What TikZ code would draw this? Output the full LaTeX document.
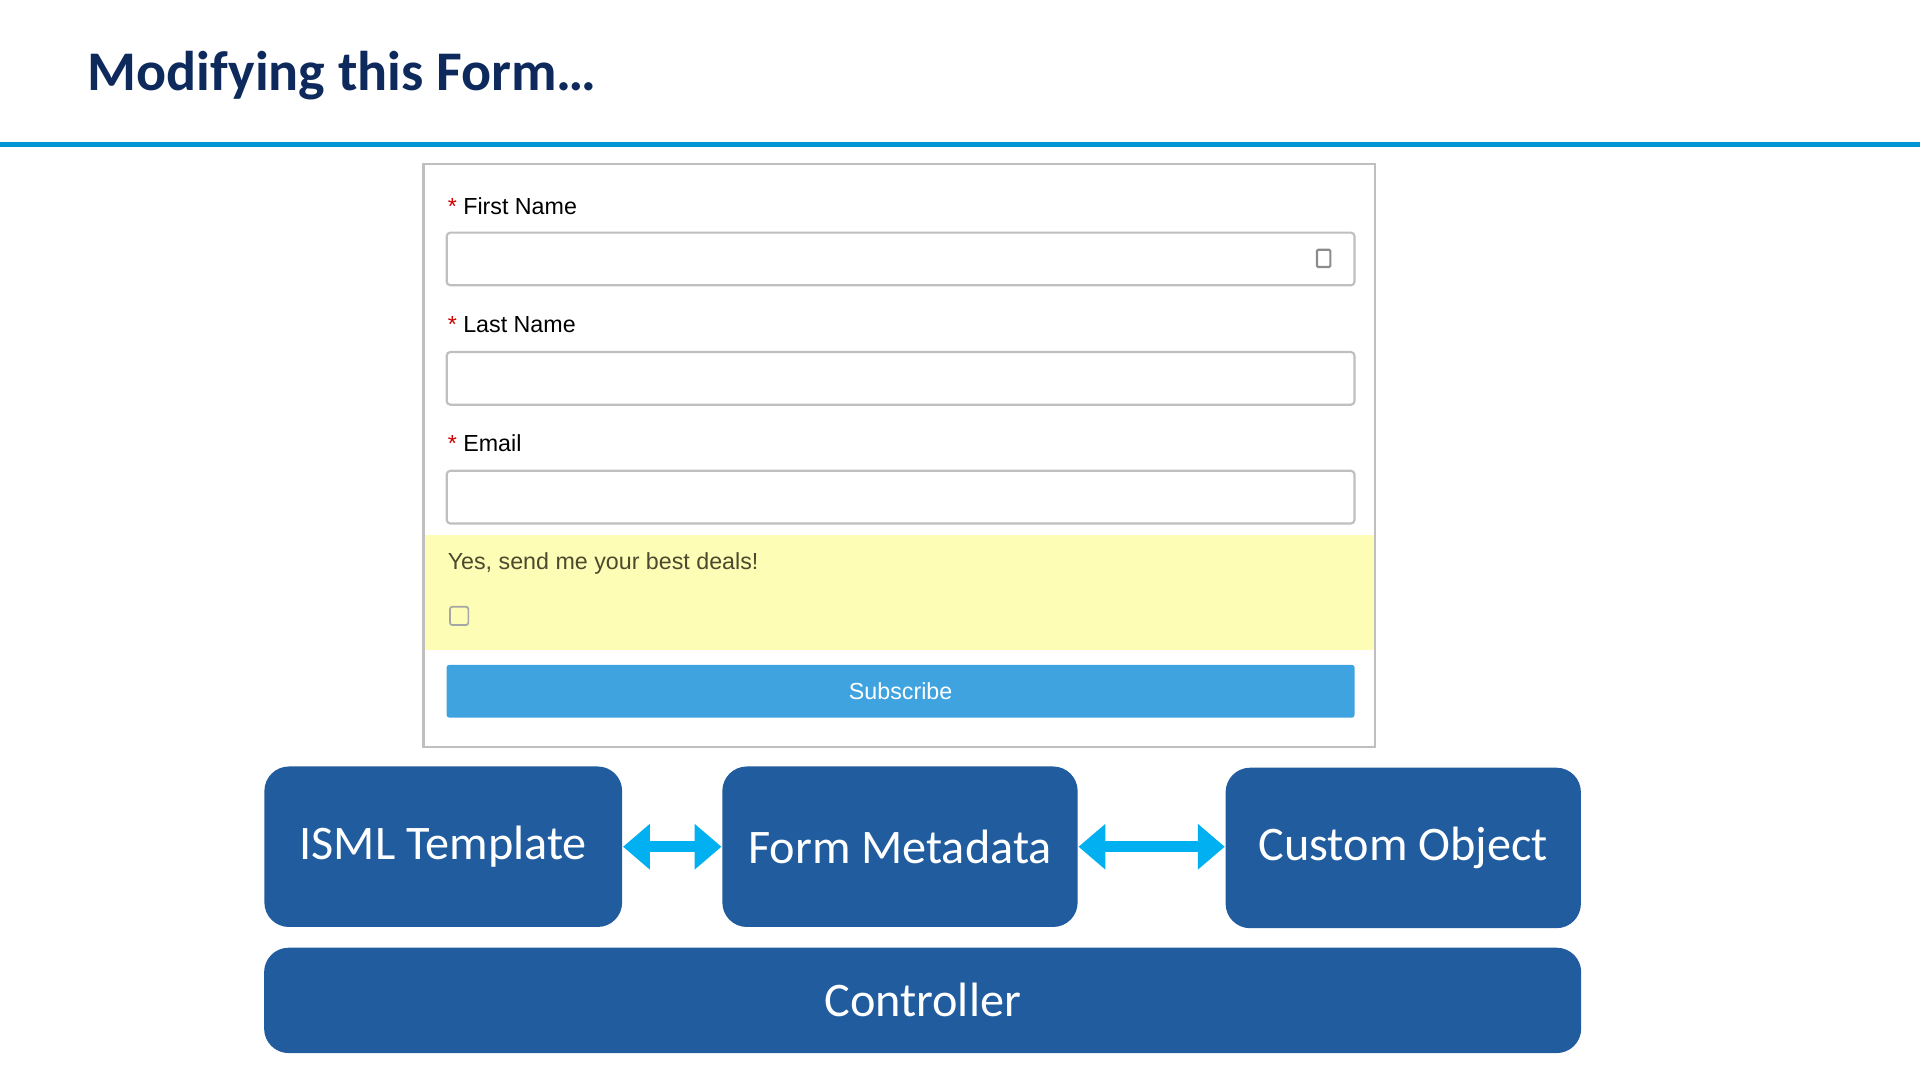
\documentclass[tikz,border=0pt]{standalone}
\usepackage{fontspec}
\setmainfont{Carlito}
\newfontfamily\formfont{Liberation Sans}
\usetikzlibrary{arrows.meta,positioning}
\definecolor{navy}{HTML}{0E2A5C}
\definecolor{rule}{HTML}{0096D6}
\definecolor{boxblue}{HTML}{215C9E}
\definecolor{arrowcyan}{HTML}{00B0F0}
\definecolor{deals}{HTML}{FDFDB5}
\definecolor{btn}{HTML}{3FA3E0}
\tikzset{
    block/.style={rectangle,rounded corners=0.2cm,fill=boxblue,text=white,font=\fontsize{11.2}{13}\selectfont},
    field/.style={rectangle,rounded corners=0.03cm,draw=black!25,line width=0.5pt,minimum width=7.41cm,minimum height=0.43cm},
    flabel/.style={anchor=west,font=\formfont\fontsize{5.4}{6.5}\selectfont,inner sep=0pt},
    link/.style={{Triangle[length=0.22cm,width=0.36cm]}-{Triangle[length=0.22cm,width=0.36cm]},line width=0.09cm,arrowcyan}
}
\begin{document}
\begin{tikzpicture}[x=0.01cm,y=-0.01cm]
\useasboundingbox (0,0) rectangle (1568,882);
% title and rule
\node [anchor=west,inner sep=0pt,text=navy,font=\bfseries\fontsize{13}{15}\selectfont] (title) at (71,62) {Modifying this Form\dots};
\draw [rule,line width=0.04cm] (0,118) -- (1568,118);
% form
\draw [black!25,line width=0.6pt] (346,134) rectangle (1123,610);
\fill [deals] (347,437) rectangle (1122,531);
\node [flabel] (lfirst) at (365,168) {\textcolor{red!80!black}{*} First Name};
\node [field] (ffirst) at (735.5,211.5) {};
\node [draw=black!45,line width=0.5pt,minimum width=0.11cm,minimum height=0.14cm,inner sep=0pt,rounded corners=0.01cm] (icon) at (1081,211) {};
\node [flabel] (llast) at (365,265) {\textcolor{red!80!black}{*} Last Name};
\node [field] (flast) at (735.5,309) {};
\node [flabel] (lmail) at (365,362) {\textcolor{red!80!black}{*} Email};
\node [field] (fmail) at (735.5,406) {};
\node [flabel,text=black!60!olive] (ldeals) at (365,460) {Yes, send me your best deals!};
\node [draw=black!35,rounded corners=0.02cm,minimum size=0.15cm,inner sep=0pt] (check) at (375,503) {};
\node [fill=btn,rounded corners=0.02cm,minimum width=7.41cm,minimum height=0.43cm,text=white,font=\formfont\fontsize{5.4}{6.5}\selectfont] (subscribe) at (735.5,564.5) {Subscribe};
% blocks
\node [block,minimum width=2.92cm,minimum height=1.31cm] (isml) at (362,691.5) {ISML Template};
\node [block,minimum width=2.90cm,minimum height=1.31cm] (meta) at (735,691.5) {Form Metadata};
\node [block,minimum width=2.90cm,minimum height=1.31cm] (custom) at (1146,692.5) {Custom Object};
\node [block,minimum width=10.75cm,minimum height=0.86cm] (ctrl) at (753.5,817) {Controller};
\draw [link] (isml.east) -- (meta.west);
\draw [link] (meta.east) -- (custom.west |- meta.east);
\end{tikzpicture}
\end{document}
